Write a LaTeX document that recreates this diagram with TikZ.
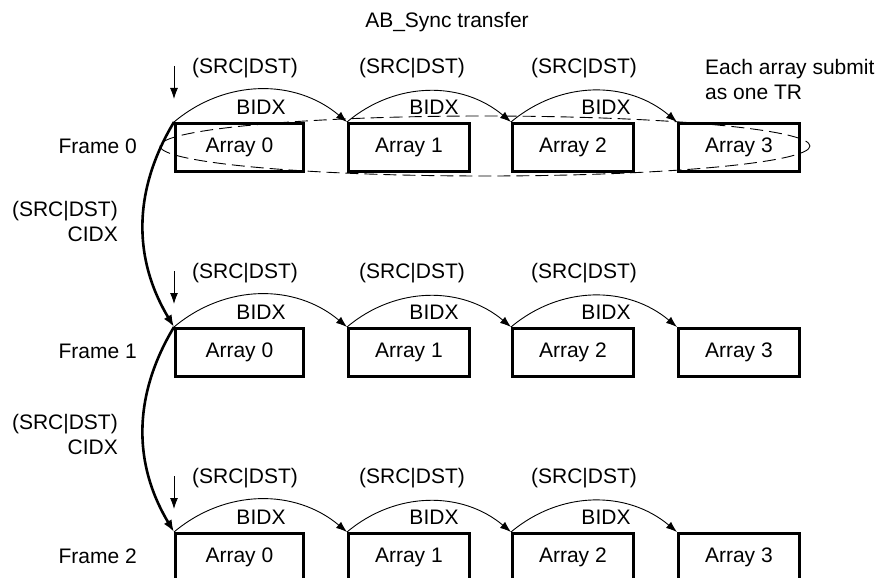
\documentclass[tikz,border=0pt]{standalone}
\usepackage{fontspec}
\setmainfont{Liberation Sans}
\usetikzlibrary{arrows.meta}
\begin{document}
\begin{tikzpicture}[x=1pt,y=-1pt,
  every node/.style={font=\fontsize{21}{25}\selectfont, inner sep=0pt},
  arr/.style={draw, line width=2.8pt, minimum height=48pt, anchor=north west},
  bidx/.style={line width=0.9pt, -{Latex[length=11pt,width=8pt]}},
  cidx/.style={line width=2.6pt, -{Latex[length=12pt,width=9pt]}},
  downarr/.style={line width=0.9pt, -{Latex[length=11pt,width=8pt]}},
  ell/.style={line width=0.9pt, dash pattern=on 13pt off 6pt}]
\useasboundingbox (0,0) rectangle (879,578);
\node (title) at (447,22) {AB\_Sync transfer};
\foreach \r/\ty in {0/122,1/327,2/532}{
  \node[arr, minimum width=128pt] (a\r0) at (174,\ty) {};
  \node[arr, minimum width=121pt] (a\r1) at (347,\ty) {};
  \node[arr, minimum width=121pt] (a\r2) at (511,\ty) {};
  \node[arr, minimum width=121pt] (a\r3) at (677,\ty) {};
  \foreach \i in {0,...,3}{ \node at (a\r\i.center) {Array \i}; }
  \node[anchor=east] (f\r) at (137,\ty+24) {Frame \r};
  \draw[bidx] (a\r0.north west) to[bend left=40] (a\r1.north west);
  \draw[bidx] (a\r1.north west) to[bend left=40] (a\r2.north west);
  \draw[bidx] (a\r2.north west) to[bend left=40] (a\r3.north west);
  \node (b\r0) at (261,\ty-15) {BIDX};
  \node (b\r1) at (434,\ty-15) {BIDX};
  \node (b\r2) at (606,\ty-15) {BIDX};
  \node (s\r0) at (245,\ty-54) {(SRC|DST)};
  \node (s\r1) at (412,\ty-54) {(SRC|DST)};
  \node (s\r2) at (584,\ty-54) {(SRC|DST)};
  \coordinate (ds\r) at (174,\ty-56);
  \coordinate (de\r) at (174,\ty-23);
  \draw[downarr] (ds\r) -- (de\r);
}
\draw[ell] (485,146) ellipse [x radius=325, y radius=30];
\node[anchor=west, align=left] (note) at (705,79) {Each array submit\\as one TR};
\draw[cidx] (a00.north west) to[bend right=31] (a10.north west);
\draw[cidx] (a10.north west) to[bend right=31] (a20.north west);
\node[anchor=east, align=right] (c0) at (118,221) {(SRC|DST)\\CIDX};
\node[anchor=east, align=right] (c1) at (118,434) {(SRC|DST)\\CIDX};
\end{tikzpicture}
\end{document}
